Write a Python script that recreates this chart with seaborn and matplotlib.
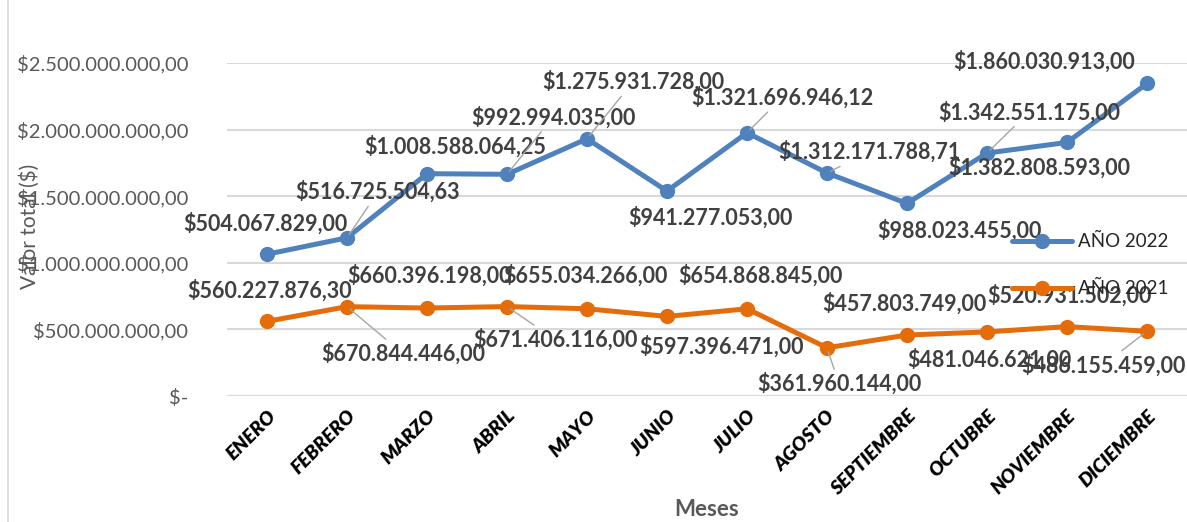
import numpy as np
import pandas as pd
import seaborn as sns
import matplotlib.pyplot as plt
from matplotlib.ticker import FuncFormatter
from matplotlib.lines import Line2D

months = ["ENERO", "FEBRERO", "MARZO", "ABRIL", "MAYO", "JUNIO", "JULIO",
          "AGOSTO", "SEPTIEMBRE", "OCTUBRE", "NOVIEMBRE", "DICIEMBRE"]
v2022 = [504067829.00, 516725504.63, 1008588064.25, 992994035.00, 1275931728.00,
         941277053.00, 1321696946.12, 1312171788.71, 988023455.00, 1342551175.00,
         1382808593.00, 1860030913.00]
v2021 = [560227876.30, 670844446.00, 660396198.00, 671406116.00, 655034266.00,
         597396471.00, 654868845.00, 361960144.00, 457803749.00, 481046621.00,
         520931502.00, 486155459.00]
yticks = [0, 500e6, 1000e6, 1500e6, 2000e6, 2500e6]

# stacked line chart: 2022 sits on top of 2021
stack2022 = np.array(v2021) + np.array(v2022)

# label offsets in pixels (layout only) and whether a leader line is drawn
off2022 = [(-2, 31), (31, 46), (28, 27), (46, 57), (46, 57), (43, -27),
           (35, 35), (42, 21), (52, -27), (42, 41), (-28, -25), (-103, 22)]
lead2022 = [False, True, False, True, True, False, True, True, False, True, False, False]
off2021 = [(3, 31), (56, -47), (3, 32), (48, -33), (-2, 33), (55, -30),
           (13, 33), (12, -36), (-3, 31), (2, -28), (2, 31), (-44, -34)]
lead2021 = [False, True, False, True, False, False, False, True, False, False, False, True]

BLUE = "#4F81BD"
ORANGE = "#E46C0A"
GRAY = "#595959"
DARK = "#404040"

sns.set_theme(style="white")
plt.rcParams['font.family'] = ['Lato', 'DejaVu Sans']


def money(v):
    s = f"${v:,.2f}"
    return s.replace(",", "X").replace(".", ",").replace("X", ".")


df = pd.DataFrame({
    "Mes": months * 2,
    "Valor": list(stack2022) + v2021,
    "Serie": ["AÑO 2022"] * 12 + ["AÑO 2021"] * 12,
})

fig = plt.figure(figsize=(11.87, 5.22), dpi=100)
ax = fig.add_axes([227 / 1187, 1 - 396 / 522, 960 / 1187, 333 / 522])

sns.lineplot(data=df, x="Mes", y="Valor", hue="Serie", sort=False,
             palette={"AÑO 2022": BLUE, "AÑO 2021": ORANGE},
             marker="o", markersize=11, markeredgewidth=0, linewidth=3.6,
             legend=False, ax=ax)

ax.set_xlim(-0.5, 11.5)
ax.set_ylim(0, 2.5e9)
ax.set_yticks(yticks)
ax.yaxis.set_major_formatter(FuncFormatter(
    lambda v, p: "$-" if v == 0 else money(v)))
ax.grid(axis="y", color="#d9d9d9", lw=1.5)
ax.set_axisbelow(True)
for sp in ax.spines.values():
    sp.set_visible(False)
ax.tick_params(axis="y", labelsize=14.5, labelcolor=GRAY, length=0, pad=28)
ax.tick_params(axis="x", length=0, pad=8)
ax.set_xticks(range(12))
ax.set_xticklabels(months, rotation=45, ha="right", va="top",
                   rotation_mode="anchor", fontsize=14,
                   fontweight="heavy", fontstyle="italic", color="black")
ax.set_xlabel("Meses", fontsize=16, fontweight="bold", color=GRAY)
ax.xaxis.label.set_va("center")
ax.xaxis.set_label_coords(0.5, -0.34)
ax.set_ylabel("")

fig.text(30 / 1187, 1 - 226 / 522, "Valor total ($)", rotation=90,
         ha="center", va="center", fontsize=15, color=GRAY)


def put_labels(vals, ys, offs, leads):
    for i, (v, y, (dx, dy), ld) in enumerate(zip(vals, ys, offs, leads)):
        ax.annotate(money(v), xy=(i, y), xytext=(dx, dy),
                    textcoords="offset pixels", ha="center", va="center",
                    fontsize=15.5, fontweight="bold", color=DARK, zorder=5,
                    arrowprops=dict(arrowstyle="-", color="#a6a6a6", lw=1,
                                    shrinkA=0, shrinkB=3) if ld else None)


put_labels(v2022, stack2022, off2022, lead2022)
put_labels(v2021, v2021, off2021, lead2021)

handles = [Line2D([], [], color=BLUE, lw=3.6, marker="o", markersize=11, markeredgewidth=0),
           Line2D([], [], color=ORANGE, lw=3.6, marker="o", markersize=11, markeredgewidth=0)]
leg = ax.legend(handles, ["AÑO 2022", "AÑO 2021"], loc="upper left",
                bbox_to_anchor=(0.8, 0.54), frameon=False, fontsize=13.5,
                handlelength=3.2, labelspacing=1.6, handletextpad=0.3)
for t in leg.get_texts():
    t.set_color("#262626")

fig.add_artist(Line2D([8 / 1187, 8 / 1187], [0, 1], color="#d9d9d9", lw=1.2))

fig.savefig("out.png", dpi=100)
